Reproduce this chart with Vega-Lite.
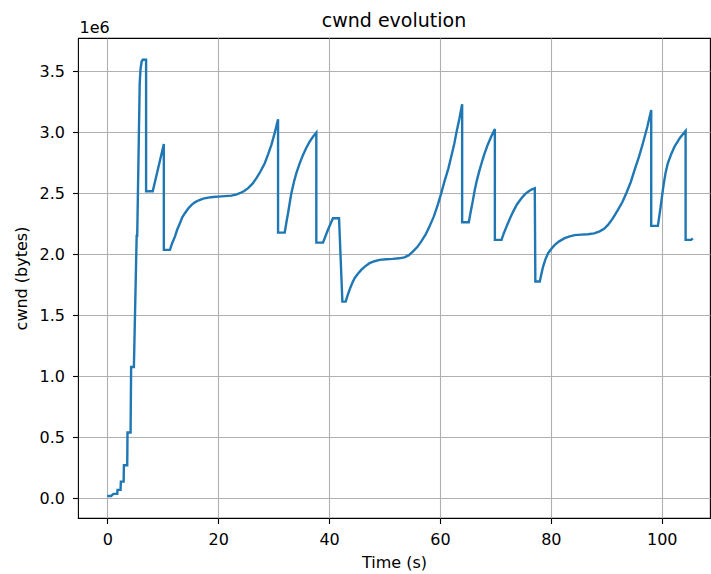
{
  "$schema": "https://vega.github.io/schema/vega-lite/v6.json",
  "width": 632,
  "height": 480,
  "autosize": {"type": "none"},
  "padding": {"left": 78, "top": 38, "right": 1, "bottom": 56},
  "background": "white",
  "title": {"text": "cwnd evolution", "fontSize": 19, "font": "DejaVu Sans", "fontWeight": "normal", "offset": 8, "dy": 20, "color": "black"},
  "config": {
    "font": "DejaVu Sans",
    "view": {"stroke": "black", "strokeWidth": 1.1},
    "axis": {
      "grid": true, "gridColor": "#b0b0b0", "gridWidth": 1.1, "domain": false,
      "tickColor": "black", "tickSize": 5.5, "tickWidth": 1.1,
      "labelFont": "DejaVu Sans", "labelFontSize": 16, "labelColor": "black",
      "titleFont": "DejaVu Sans", "titleFontSize": 16, "titleFontWeight": "normal", "titleColor": "black"
    }
  },
  "data": {"values": [
    {"i": 1, "t": 0, "cwnd": 17000},
    {"i": 2, "t": 0.7, "cwnd": 17000},
    {"i": 3, "t": 1.1, "cwnd": 34000},
    {"i": 4, "t": 1.8, "cwnd": 34000},
    {"i": 5, "t": 1.85, "cwnd": 67000},
    {"i": 6, "t": 2.4, "cwnd": 67000},
    {"i": 7, "t": 2.45, "cwnd": 134000},
    {"i": 8, "t": 2.95, "cwnd": 134000},
    {"i": 9, "t": 3.0, "cwnd": 269000},
    {"i": 10, "t": 3.6, "cwnd": 269000},
    {"i": 11, "t": 3.65, "cwnd": 537000},
    {"i": 12, "t": 4.2, "cwnd": 537000},
    {"i": 13, "t": 4.3, "cwnd": 1075000},
    {"i": 14, "t": 4.8, "cwnd": 1075000},
    {"i": 15, "t": 5.3, "cwnd": 2150000},
    {"i": 16, "t": 5.4, "cwnd": 2150000},
    {"i": 17, "t": 5.85, "cwnd": 3400000},
    {"i": 18, "t": 6.0, "cwnd": 3520000},
    {"i": 19, "t": 6.2, "cwnd": 3580000},
    {"i": 20, "t": 6.4, "cwnd": 3595000},
    {"i": 21, "t": 7.0, "cwnd": 3595000},
    {"i": 22, "t": 7.0, "cwnd": 2516000},
    {"i": 23, "t": 8.2, "cwnd": 2516000},
    {"i": 24, "t": 10.2, "cwnd": 2904000},
    {"i": 25, "t": 10.2, "cwnd": 2035000},
    {"i": 26, "t": 11.3, "cwnd": 2035000},
    {"i": 27, "t": 11.7, "cwnd": 2090000},
    {"i": 28, "t": 12.2, "cwnd": 2144000},
    {"i": 29, "t": 12.6, "cwnd": 2200000},
    {"i": 30, "t": 13.1, "cwnd": 2254000},
    {"i": 31, "t": 13.5, "cwnd": 2300000},
    {"i": 32, "t": 14.0, "cwnd": 2336000},
    {"i": 33, "t": 14.6, "cwnd": 2375000},
    {"i": 34, "t": 15.2, "cwnd": 2404000},
    {"i": 35, "t": 15.8, "cwnd": 2425000},
    {"i": 36, "t": 16.4, "cwnd": 2440000},
    {"i": 37, "t": 17.3, "cwnd": 2455000},
    {"i": 38, "t": 18.2, "cwnd": 2464000},
    {"i": 39, "t": 19.1, "cwnd": 2469000},
    {"i": 40, "t": 20.0, "cwnd": 2472000},
    {"i": 41, "t": 21.2, "cwnd": 2476000},
    {"i": 42, "t": 22.4, "cwnd": 2480000},
    {"i": 43, "t": 23.2, "cwnd": 2488000},
    {"i": 44, "t": 23.9, "cwnd": 2500000},
    {"i": 45, "t": 24.7, "cwnd": 2518000},
    {"i": 46, "t": 25.4, "cwnd": 2541000},
    {"i": 47, "t": 26.2, "cwnd": 2578000},
    {"i": 48, "t": 26.9, "cwnd": 2623000},
    {"i": 49, "t": 27.6, "cwnd": 2676000},
    {"i": 50, "t": 28.4, "cwnd": 2746000},
    {"i": 51, "t": 29.0, "cwnd": 2818000},
    {"i": 52, "t": 29.6, "cwnd": 2896000},
    {"i": 53, "t": 30.2, "cwnd": 2995000},
    {"i": 54, "t": 30.8, "cwnd": 3107000},
    {"i": 55, "t": 30.8, "cwnd": 2177000},
    {"i": 56, "t": 32.0, "cwnd": 2177000},
    {"i": 57, "t": 32.3, "cwnd": 2260000},
    {"i": 58, "t": 32.6, "cwnd": 2336000},
    {"i": 59, "t": 32.9, "cwnd": 2420000},
    {"i": 60, "t": 33.2, "cwnd": 2500000},
    {"i": 61, "t": 33.65, "cwnd": 2590000},
    {"i": 62, "t": 34.1, "cwnd": 2664000},
    {"i": 63, "t": 34.7, "cwnd": 2745000},
    {"i": 64, "t": 35.3, "cwnd": 2814000},
    {"i": 65, "t": 35.9, "cwnd": 2873000},
    {"i": 66, "t": 36.5, "cwnd": 2923000},
    {"i": 67, "t": 37.1, "cwnd": 2963000},
    {"i": 68, "t": 37.7, "cwnd": 2997000},
    {"i": 69, "t": 37.7, "cwnd": 2095000},
    {"i": 70, "t": 38.9, "cwnd": 2095000},
    {"i": 71, "t": 39.8, "cwnd": 2200000},
    {"i": 72, "t": 40.7, "cwnd": 2295000},
    {"i": 73, "t": 41.8, "cwnd": 2295000},
    {"i": 74, "t": 42.4, "cwnd": 1611000},
    {"i": 75, "t": 43.0, "cwnd": 1611000},
    {"i": 76, "t": 43.4, "cwnd": 1670000},
    {"i": 77, "t": 43.8, "cwnd": 1721000},
    {"i": 78, "t": 44.2, "cwnd": 1765000},
    {"i": 79, "t": 44.6, "cwnd": 1803000},
    {"i": 80, "t": 45.2, "cwnd": 1840000},
    {"i": 81, "t": 45.8, "cwnd": 1871000},
    {"i": 82, "t": 46.5, "cwnd": 1900000},
    {"i": 83, "t": 47.3, "cwnd": 1926000},
    {"i": 84, "t": 48.2, "cwnd": 1942000},
    {"i": 85, "t": 49.1, "cwnd": 1953000},
    {"i": 86, "t": 50.3, "cwnd": 1958000},
    {"i": 87, "t": 51.5, "cwnd": 1961000},
    {"i": 88, "t": 52.6, "cwnd": 1966000},
    {"i": 89, "t": 53.6, "cwnd": 1974000},
    {"i": 90, "t": 54.4, "cwnd": 1992000},
    {"i": 91, "t": 55.1, "cwnd": 2021000},
    {"i": 92, "t": 55.9, "cwnd": 2058000},
    {"i": 93, "t": 56.6, "cwnd": 2103000},
    {"i": 94, "t": 57.4, "cwnd": 2160000},
    {"i": 95, "t": 58.1, "cwnd": 2226000},
    {"i": 96, "t": 58.9, "cwnd": 2310000},
    {"i": 97, "t": 59.6, "cwnd": 2404000},
    {"i": 98, "t": 60.2, "cwnd": 2495000},
    {"i": 99, "t": 60.8, "cwnd": 2595000},
    {"i": 100, "t": 61.5, "cwnd": 2700000},
    {"i": 101, "t": 62.1, "cwnd": 2814000},
    {"i": 102, "t": 62.6, "cwnd": 2910000},
    {"i": 103, "t": 63.0, "cwnd": 3005000},
    {"i": 104, "t": 63.5, "cwnd": 3110000},
    {"i": 105, "t": 64.0, "cwnd": 3230000},
    {"i": 106, "t": 64.0, "cwnd": 2262000},
    {"i": 107, "t": 65.2, "cwnd": 2262000},
    {"i": 108, "t": 65.55, "cwnd": 2350000},
    {"i": 109, "t": 65.9, "cwnd": 2431000},
    {"i": 110, "t": 66.25, "cwnd": 2520000},
    {"i": 111, "t": 66.6, "cwnd": 2595000},
    {"i": 112, "t": 67.05, "cwnd": 2675000},
    {"i": 113, "t": 67.5, "cwnd": 2746000},
    {"i": 114, "t": 68.0, "cwnd": 2820000},
    {"i": 115, "t": 68.6, "cwnd": 2896000},
    {"i": 116, "t": 69.25, "cwnd": 2965000},
    {"i": 117, "t": 69.9, "cwnd": 3027000},
    {"i": 118, "t": 69.9, "cwnd": 2117000},
    {"i": 119, "t": 71.1, "cwnd": 2117000},
    {"i": 120, "t": 71.5, "cwnd": 2170000},
    {"i": 121, "t": 72.0, "cwnd": 2226000},
    {"i": 122, "t": 72.6, "cwnd": 2290000},
    {"i": 123, "t": 73.2, "cwnd": 2349000},
    {"i": 124, "t": 73.9, "cwnd": 2410000},
    {"i": 125, "t": 74.7, "cwnd": 2459000},
    {"i": 126, "t": 75.3, "cwnd": 2490000},
    {"i": 127, "t": 75.9, "cwnd": 2513000},
    {"i": 128, "t": 76.5, "cwnd": 2530000},
    {"i": 129, "t": 77.1, "cwnd": 2541000},
    {"i": 130, "t": 77.2, "cwnd": 1776000},
    {"i": 131, "t": 78.0, "cwnd": 1776000},
    {"i": 132, "t": 78.3, "cwnd": 1840000},
    {"i": 133, "t": 78.6, "cwnd": 1898000},
    {"i": 134, "t": 79.0, "cwnd": 1955000},
    {"i": 135, "t": 79.5, "cwnd": 2008000},
    {"i": 136, "t": 80.1, "cwnd": 2045000},
    {"i": 137, "t": 80.7, "cwnd": 2076000},
    {"i": 138, "t": 81.5, "cwnd": 2105000},
    {"i": 139, "t": 82.5, "cwnd": 2131000},
    {"i": 140, "t": 83.4, "cwnd": 2146000},
    {"i": 141, "t": 84.3, "cwnd": 2156000},
    {"i": 142, "t": 85.5, "cwnd": 2160000},
    {"i": 143, "t": 86.7, "cwnd": 2163000},
    {"i": 144, "t": 87.8, "cwnd": 2171000},
    {"i": 145, "t": 88.8, "cwnd": 2187000},
    {"i": 146, "t": 89.6, "cwnd": 2208000},
    {"i": 147, "t": 90.3, "cwnd": 2240000},
    {"i": 148, "t": 91.2, "cwnd": 2295000},
    {"i": 149, "t": 92.1, "cwnd": 2363000},
    {"i": 150, "t": 92.9, "cwnd": 2428000},
    {"i": 151, "t": 93.6, "cwnd": 2500000},
    {"i": 152, "t": 94.4, "cwnd": 2590000},
    {"i": 153, "t": 95.1, "cwnd": 2691000},
    {"i": 154, "t": 95.9, "cwnd": 2800000},
    {"i": 155, "t": 96.6, "cwnd": 2910000},
    {"i": 156, "t": 97.4, "cwnd": 3045000},
    {"i": 157, "t": 98.1, "cwnd": 3183000},
    {"i": 158, "t": 98.1, "cwnd": 2232000},
    {"i": 159, "t": 99.3, "cwnd": 2232000},
    {"i": 160, "t": 99.55, "cwnd": 2310000},
    {"i": 161, "t": 99.8, "cwnd": 2390000},
    {"i": 162, "t": 100.3, "cwnd": 2560000},
    {"i": 163, "t": 100.7, "cwnd": 2670000},
    {"i": 164, "t": 101.1, "cwnd": 2746000},
    {"i": 165, "t": 101.7, "cwnd": 2820000},
    {"i": 166, "t": 102.3, "cwnd": 2882000},
    {"i": 167, "t": 103.3, "cwnd": 2955000},
    {"i": 168, "t": 104.3, "cwnd": 3011000},
    {"i": 169, "t": 104.3, "cwnd": 2117000},
    {"i": 170, "t": 105.3, "cwnd": 2117000},
    {"i": 171, "t": 105.6, "cwnd": 2130000}
  ]},
  "layer": [
    {
      "mark": {"type": "line", "color": "#1f77b4", "strokeWidth": 2.4, "clip": true},
      "encoding": {
        "x": {"field": "t", "type": "quantitative",
              "scale": {"domain": [-5.28, 108.7], "nice": false, "zero": false},
              "axis": {"values": [0, 20, 40, 60, 80, 100], "title": "Time (s)", "labelPadding": 8, "titlePadding": 7, "labelFlush": false}},
        "y": {"field": "cwnd", "type": "quantitative",
              "scale": {"domain": [-164000, 3773000], "nice": false, "zero": false},
              "axis": {"values": [0, 500000, 1000000, 1500000, 2000000, 2500000, 3000000, 3500000],
                       "labelExpr": "format(datum.value / 1000000, '.1f')",
                       "title": "cwnd (bytes)", "labelPadding": 8, "titlePadding": 10}},
        "order": {"field": "i", "type": "quantitative"}
      }
    },
    {
      "mark": {"type": "line", "opacity": 0},
      "encoding": {
        "x": {"field": "t", "type": "quantitative"},
        "y": {"field": "cwnd", "type": "quantitative",
              "axis": {"orient": "right", "title": "1e6", "grid": false, "labels": false, "ticks": false, "domain": false,
                       "titleAngle": 0, "titleX": -631, "titleY": -6, "titleAlign": "left", "titleBaseline": "alphabetic"}},
        "order": {"field": "i", "type": "quantitative"}
      }
    }
  ],
  "resolve": {"axis": {"y": "independent"}}
}
